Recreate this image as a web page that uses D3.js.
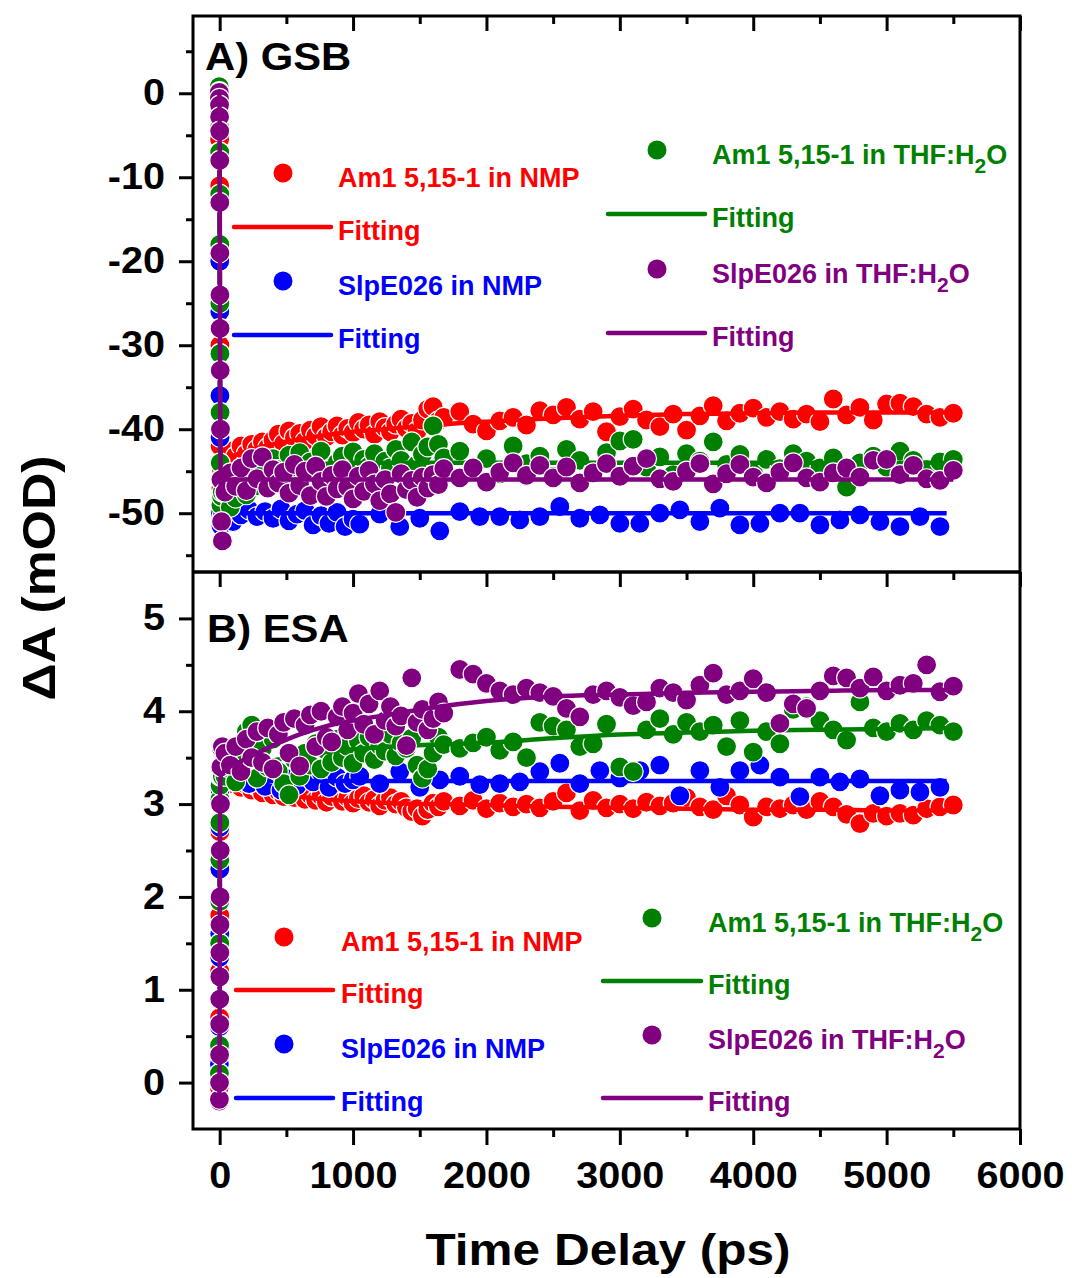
<!DOCTYPE html>
<html>
<head>
<meta charset="utf-8">
<script src="https://cdn.jsdelivr.net/npm/d3@7"></script>
<style>
  body { margin: 0; background: #fff; }
  svg { display: block; }
  text { font-family: "Liberation Sans", Arial, Helvetica, sans-serif; font-weight: bold; }
</style>
</head>
<body>
<svg id="chart" width="1072" height="1278"></svg>
<script>
// ---------- delay grids (ps) ----------
const delayEarly = [-3, -2, -1, -0.5, 0, 0.5, 1, 1.5, 2, 3, 4, 6, 9, 14, 20];
const delayDense = [40, 80, 120, 160, 200, 240, 280, 320, 360, 400, 440, 480, 520, 560, 600, 640, 680, 720, 760, 800,
  840, 880, 920, 960, 1000, 1040, 1080, 1120, 1160, 1200, 1240, 1280, 1320, 1360, 1400, 1440, 1480, 1520, 1560, 1600, 1640, 1680];
const delaySparse = [1800, 1900, 2000, 2100, 2200, 2300, 2400, 2500, 2600, 2700, 2800, 2900, 3000, 3100, 3200, 3300, 3400,
  3500, 3600, 3700, 3800, 3900, 4000, 4100, 4200, 4300, 4400, 4500, 4600, 4700, 4800, 4900, 5000, 5100, 5200, 5300, 5400, 5500];
const delayBlueDense = [40, 100, 160, 220, 280, 340, 400, 460, 520, 580, 640, 700, 760, 820, 880, 940, 1000];
const delayBlueSparse = [1050, 1200, 1350, 1500, 1650, 1800, 1950, 2100, 2250, 2400, 2550, 2700, 2850, 3000, 3150, 3300,
  3450, 3600, 3750, 3900, 4050, 4200, 4350, 4500, 4650, 4800, 4950, 5100, 5250, 5400];
const fitDelays = [-3, -1, 0, 1, 2, 3, 5, 10, 20, 50, 100, 200, 400, 600, 800, 1000, 1300, 1600, 2000, 2500, 3000, 3500, 4000, 4500, 5000, 5500];
const fitDelaysBlue = [-3, -1, 0, 1, 2, 3, 5, 10, 20, 50, 100, 200, 400, 600, 800, 1000, 1300, 1600, 2000, 2500, 3000, 3500, 4000, 4500, 5000, 5450];

// ---------- A) GSB (mOD) ----------
const gsbAm1Nmp = [
  0.5, -0.3, -2.1, -5.5, -11, -18, -24, -30, -36, -42, -46, -48.5, -47, -45, -44.2,
  -43.8, -42.6, -43.2, -42.0, -42.9, -41.8, -42.4, -41.5, -42.2, -41.3, -40.6, -41.7, -40.2, -41.0, -40.5, -41.4, -40.1, -40.8, -39.7, -40.9,
  -40.3, -39.6, -40.7, -39.9, -40.4, -39.2, -40.0, -39.5, -40.6, -39.1, -39.8, -40.3, -39.4, -38.8, -39.9, -39.3, -40.2, -38.9, -37.6, -37.3, -39.0, -38.6,
  -37.9, -39.4, -40.2, -39.0, -38.6, -39.5, -37.8, -38.3, -37.4, -38.8, -37.9, -40.3, -38.5, -37.6, -38.9, -39.7, -38.2, -40.1, -38.4,
  -37.2, -39.0, -38.1, -37.5, -38.6, -37.9, -38.8, -38.2, -39.1, -36.4, -38.3, -37.4, -38.9, -37.0, -36.9, -37.3, -38.2, -38.6, -38.1];
const gsbSlpNmp = [
  0.3, -0.5, -3, -7, -13, -20, -26, -31, -36, -41, -46, -50, -51.5, -51, -50.3,
  -50.5, -51.0, -50.2, -49.6, -50.4, -49.8, -50.6, -49.5, -50.9, -50.1, -49.7, -51.4, -50.3, -51.2, -49.9, -51.6, -50.7,
  -51.3, -50.1, -51.6, -50.6, -52.1, -49.8, -50.4, -50.4, -50.8, -50.4, -49.2, -50.6, -50.2, -51.2, -51.2,
  -50.0, -49.6, -51.0, -49.4, -51.4, -51.2, -50.0, -50.0, -51.4, -50.8, -50.2, -51.0, -51.6, -50.4, -51.6];
const gsbAm1Thf = [
  0.8, 0.2, -1.5, -4, -7, -12, -18, -25, -31, -38, -44, -48, -49, -48, -47.5,
  -47.6, -49.3, -48.2, -46.5, -47.8, -45.3, -46.7, -44.2, -45.6, -43.5, -44.8, -46.2, -43.1, -44.5, -42.8, -45.1, -43.9, -44.7, -42.6, -45.5,
  -46.6, -44.0, -43.2, -44.9, -42.7, -45.8, -43.6, -44.4, -42.9, -45.2, -43.8, -44.6, -42.4, -43.7, -45.0, -41.5, -44.2, -43.0, -42.1, -39.6, -41.8, -43.4,
  -42.6, -44.8, -43.5, -45.3, -42.0, -44.1, -43.2, -45.6, -42.4, -43.7, -45.0, -42.8, -41.4, -41.2, -44.5, -43.3, -45.4, -42.9, -43.8,
  -41.5, -44.2, -43.0, -45.1, -43.6, -44.7, -42.9, -43.8, -44.6, -43.4, -46.9, -44.0, -43.2, -44.5, -42.6, -43.7, -44.8, -43.9, -43.6];
const gsbSlpThf = [
  0.1, -0.6, -1.4, -2.8, -4.5, -8, -13, -19, -24, -28, -33, -40, -46, -51, -53.3,
  -47.5, -45.2, -46.8, -44.6, -47.3, -43.5, -45.9, -43.3, -47.0, -44.8, -46.4, -45.1, -47.6, -44.2, -46.7, -45.0, -47.9, -44.4, -46.2, -48.0,
  -45.5, -47.1, -44.8, -46.9, -48.3, -45.6, -47.4, -44.9, -46.5, -48.5, -46.0, -47.7, -49.9, -45.3, -47.2, -46.1, -48.1, -45.7, -47.0, -45.4, -46.6, -44.7,
  -45.8, -44.6, -46.3, -45.1, -44.0, -45.5, -44.3, -45.8, -44.5, -46.4, -45.2, -44.1, -45.6, -44.4, -43.5, -45.9, -46.2, -45.0, -44.1,
  -46.5, -45.3, -44.2, -45.7, -46.4, -45.1, -44.0, -45.8, -46.3, -45.2, -44.6, -45.7, -43.7, -43.6, -45.4, -44.3, -45.9, -46.1, -44.9];

const gsbFitAm1Nmp = [0, -0.5, -10, -24, -34, -40, -43.5, -44.2, -44.0, -43.6, -43.2, -42.6, -41.8, -41.2, -40.7, -40.3, -39.9, -39.5, -39.1, -38.7, -38.4, -38.2, -38.1, -38.0, -38.0, -38.0];
const gsbFitSlpNmp = [0, -0.5, -12, -26, -36, -43, -48, -50.2, -50.3, -50.1, -50.0, -50.0, -50.0, -50.0, -50.0, -50.0, -50.0, -50.0, -50.0, -50.0, -50.0, -50.0, -50.0, -50.0, -50.0, -50.0];
const gsbFitAm1Thf = [0, -0.3, -8, -20, -30, -38, -44, -47.0, -46.8, -46.2, -45.6, -45.0, -44.5, -44.2, -44.1, -44.0, -44.0, -44.0, -44.0, -44.0, -44.0, -44.0, -44.0, -44.0, -44.0, -44.0];
const gsbFitSlpThf = [0, -0.8, -5, -14, -22, -30, -40, -48, -46.5, -46.0, -46.0, -46.0, -46.0, -46.0, -46.0, -46.0, -46.0, -46.0, -46.0, -46.0, -46.0, -46.0, -46.0, -46.0, -46.0, -46.0];

// ---------- B) ESA (mOD) ----------
const esaAm1Nmp = [
  -0.05, 0.05, 0.3, 0.7, 1.2, 1.8, 2.3, 2.7, 3.0, 3.2, 3.3, 3.32, 3.3, 3.28, 3.25,
  3.28, 3.22, 3.25, 3.18, 3.21, 3.15, 3.19, 3.12, 3.17, 3.10, 3.14, 3.08, 3.13, 3.07, 3.12, 3.05, 3.10, 3.04, 3.09, 3.02,
  3.08, 3.11, 3.03, 3.07, 3.01, 3.06, 3.09, 3.02, 3.05, 2.98, 3.04, 3.07, 3.00, 3.03, 2.96, 2.92, 2.95, 2.87, 2.94, 3.01, 2.97, 3.03,
  2.98, 3.04, 2.95, 3.01, 2.97, 3.00, 2.96, 3.03, 3.12, 2.93, 3.04, 2.96, 3.00, 2.95, 3.02, 2.98, 3.01, 3.07, 2.97,
  2.94, 3.09, 2.99, 2.86, 2.97, 2.95, 2.99, 2.94, 3.03, 2.97, 2.89, 2.79, 2.90, 2.87, 2.90, 2.88, 2.95, 2.97, 2.99];
const esaSlpNmp = [
  0.02, 0.2, 0.6, 0.9, 1.35, 1.6, 2.3, 2.75, 3.0, 3.15, 3.25, 3.3, 3.3, 3.28, 3.3,
  3.30, 3.25, 3.32, 3.22, 3.28, 3.19, 3.33, 3.15, 3.27, 3.20, 3.30, 3.24, 3.34, 3.18, 3.29, 3.22, 3.26,
  3.30, 3.22, 3.35, 3.18, 3.26, 3.30, 3.21, 3.22, 3.24, 3.35, 3.44, 3.22, 3.36, 3.28, 3.36,
  3.42, 3.09, 3.36, 3.18, 3.36, 3.42, 3.29, 3.08, 3.29, 3.24, 3.27, 3.09, 3.15, 3.13, 3.18];
const esaAm1Thf = [
  0.0, 0.1, 0.4, 0.9, 1.5, 1.95, 2.4, 2.8, 3.05, 3.2, 3.3, 3.35, 3.3, 3.3, 3.3,
  3.30, 3.38, 3.24, 3.45, 3.78, 3.85, 3.28, 3.60, 3.40, 3.70, 3.35, 3.22, 3.10, 3.48, 3.30, 3.55, 3.42, 3.65, 3.38, 3.58,
  3.45, 3.70, 3.50, 3.62, 3.44, 3.68, 3.55, 3.72, 3.48, 3.63, 3.57, 3.75, 3.52, 3.66, 3.60, 3.71, 3.42, 3.28, 3.38, 3.55, 3.72, 3.64,
  3.60, 3.66, 3.72, 3.58, 3.67, 3.50, 3.88, 3.84, 3.80, 3.62, 3.65, 3.86, 3.40, 3.35, 3.80, 3.92, 3.75, 3.88, 3.78,
  3.85, 3.62, 3.90, 3.56, 3.78, 3.65, 4.02, 4.05, 3.90, 3.80, 3.69, 4.10, 3.82, 3.78, 3.87, 3.80, 3.90, 3.85, 3.78];
const esaSlpThf = [
  -0.2, -0.18, 0.0, 0.3, 0.63, 0.9, 1.14, 1.4, 1.7, 2.0, 2.5, 3.0, 3.4, 3.6, 3.62,
  3.55, 3.42, 3.62, 3.35, 3.70, 3.50, 3.78, 3.45, 3.82, 3.38, 3.75, 3.88, 3.55, 3.92, 3.41, 3.85, 3.96, 3.62, 4.00, 3.72,
  3.67, 3.94, 4.05, 3.80, 3.98, 4.19, 3.86, 4.08, 3.75, 4.22, 3.90, 4.05, 3.84, 3.95, 3.63, 4.36, 3.88, 4.02, 3.80, 3.92, 4.10, 3.98,
  4.45, 4.40, 4.30, 4.22, 4.18, 4.25, 4.20, 4.16, 4.03, 3.94, 4.18, 4.22, 4.15, 4.06, 4.10, 4.25, 4.20, 4.12, 4.28,
  4.41, 4.18, 4.22, 4.35, 4.20, 3.87, 4.08, 4.03, 4.22, 4.38, 4.36, 4.25, 4.37, 4.22, 4.28, 4.30, 4.50, 4.21, 4.27];

const esaFitAm1Nmp = [0, 0.3, 1.2, 2.3, 3.0, 3.2, 3.3, 3.32, 3.3, 3.26, 3.22, 3.17, 3.12, 3.08, 3.05, 3.03, 3.01, 3.00, 2.99, 2.97, 2.96, 2.95, 2.94, 2.94, 2.93, 2.93];
const esaFitSlpNmp = [0, 0.5, 1.4, 2.3, 2.9, 3.15, 3.25, 3.27, 3.26, 3.25, 3.25, 3.25, 3.25, 3.25, 3.25, 3.25, 3.25, 3.25, 3.25, 3.25, 3.25, 3.25, 3.25, 3.25, 3.25, 3.25];
const esaFitAm1Thf = [0, 0.4, 1.5, 2.4, 3.0, 3.2, 3.3, 3.32, 3.33, 3.35, 3.37, 3.41, 3.47, 3.52, 3.56, 3.59, 3.62, 3.64, 3.66, 3.71, 3.75, 3.77, 3.79, 3.80, 3.81, 3.82];
const esaFitSlpThf = [-0.2, 0.1, 0.6, 1.6, 2.5, 3.0, 3.25, 3.31, 3.33, 3.38, 3.42, 3.49, 3.63, 3.75, 3.84, 3.90, 3.97, 4.04, 4.11, 4.16, 4.18, 4.20, 4.21, 4.22, 4.23, 4.23];

// ---------- labels and axis ticks ----------
const seriesLabels = ["Am1 5,15-1 in NMP", "SlpE026 in NMP", "Am1 5,15-1 in THF:H2O", "SlpE026 in THF:H2O"];
const fitLabel = "Fitting";
const xMajorTicks = [0, 1000, 2000, 3000, 4000, 5000, 6000];
const xMinorTicks = [500, 1500, 2500, 3500, 4500, 5500];
const gsbMajorTicks = [-50, -40, -30, -20, -10, 0];
const gsbMinorTicks = [-55, -45, -35, -25, -15, -5, 5];
const esaMajorTicks = [0, 1, 2, 3, 4, 5];
const esaMinorTicks = [0.5, 1.5, 2.5, 3.5, 4.5];

const COLORS = ["#ff0000", "#0000ff", "#008000", "#800080"];

// ---------- layout ----------
const svg = d3.select("#chart");
const L = 193, R = 1020, T = 16, MID = 572, B = 1129;

const x = d3.scaleLinear().domain([-200, 6000]).range([L, R]);
const yGsb = d3.scaleLinear().domain([-57, 9.2]).range([MID, T]);
const yEsa = d3.scaleLinear().domain([-0.5, 5.5]).range([B, MID]);

const timesMain = delayEarly.concat(delayDense, delaySparse);
const timesBlue = delayEarly.concat(delayBlueDense, delayBlueSparse);

function stretch(sel, k) {
  sel.each(function () {
    const w = this.getComputedTextLength();
    this.setAttribute("textLength", w * k);
    this.setAttribute("lengthAdjust", "spacingAndGlyphs");
  });
}

const defs = svg.append("defs");

function drawPanel(id, y, sets, top, bottom) {
  defs.append("clipPath").attr("id", id)
    .append("rect").attr("x", L).attr("y", top).attr("width", R - L).attr("height", bottom - top);
  const g = svg.append("g").attr("clip-path", `url(#${id})`);
  sets.forEach(s => {
    const pts = s.times.map((t, i) => ({ t, v: s.values[i] }));
    g.append("g").selectAll("circle").data(pts).join("circle")
      .attr("cx", d => x(d.t)).attr("cy", d => y(d.v)).attr("r", 10)
      .attr("fill", s.color).attr("stroke", "#fff").attr("stroke-width", 1.2);
    const fit = s.fitTimes.map((t, i) => ({ t, v: s.fit[i] }));
    g.append("path").datum(fit)
      .attr("d", d3.line().x(d => x(d.t)).y(d => y(d.v)).curve(d3.curveMonotoneX))
      .attr("fill", "none").attr("stroke", s.color).attr("stroke-width", 4.5)
      .attr("stroke-linejoin", "round");
  });
}

drawPanel("clipGsb", yGsb, [
  { times: timesMain, values: gsbAm1Nmp, fitTimes: fitDelays, fit: gsbFitAm1Nmp, color: COLORS[0] },
  { times: timesBlue, values: gsbSlpNmp, fitTimes: fitDelaysBlue, fit: gsbFitSlpNmp, color: COLORS[1] },
  { times: timesMain, values: gsbAm1Thf, fitTimes: fitDelays, fit: gsbFitAm1Thf, color: COLORS[2] },
  { times: timesMain, values: gsbSlpThf, fitTimes: fitDelays, fit: gsbFitSlpThf, color: COLORS[3] }
], T, MID);

drawPanel("clipEsa", yEsa, [
  { times: timesMain, values: esaAm1Nmp, fitTimes: fitDelays, fit: esaFitAm1Nmp, color: COLORS[0] },
  { times: timesBlue, values: esaSlpNmp, fitTimes: fitDelaysBlue, fit: esaFitSlpNmp, color: COLORS[1] },
  { times: timesMain, values: esaAm1Thf, fitTimes: fitDelays, fit: esaFitAm1Thf, color: COLORS[2] },
  { times: timesMain, values: esaSlpThf, fitTimes: fitDelays, fit: esaFitSlpThf, color: COLORS[3] }
], MID, B);

// ---------- axes ----------
function addAxis(gen, tx, ty, labelled) {
  const g = svg.append("g").attr("transform", `translate(${tx},${ty})`).call(gen)
    .attr("font-family", null).attr("font-size", null);
  g.select(".domain").remove();
  g.selectAll(".tick line").attr("stroke", "#000").attr("stroke-width", 3);
  if (labelled) {
    g.selectAll(".tick text").attr("font-size", 36).attr("fill", "#000");
    stretch(g.selectAll(".tick text"), 1.1);
  }
  return g;
}
const fmt = d => String(d);

// left axes
addAxis(d3.axisLeft(yGsb).tickValues(gsbMinorTicks).tickSize(7).tickFormat(""), L, 0, false);
addAxis(d3.axisLeft(yGsb).tickValues(gsbMajorTicks).tickSize(14).tickPadding(14).tickFormat(fmt), L, 0, true);
addAxis(d3.axisLeft(yEsa).tickValues(esaMinorTicks).tickSize(7).tickFormat(""), L, 0, false);
addAxis(d3.axisLeft(yEsa).tickValues(esaMajorTicks).tickSize(14).tickPadding(14).tickFormat(fmt), L, 0, true);

// inward ticks along the top edge of each panel
[T, MID].forEach(yy => {
  addAxis(d3.axisBottom(x).tickValues(xMinorTicks).tickSize(8).tickFormat(""), 0, yy, false);
  addAxis(d3.axisBottom(x).tickValues(xMajorTicks).tickSize(15).tickFormat(""), 0, yy, false);
});

// bottom time axis
addAxis(d3.axisBottom(x).tickValues(xMinorTicks).tickSize(8).tickFormat(""), 0, B, false);
addAxis(d3.axisBottom(x).tickValues(xMajorTicks).tickSize(16).tickPadding(17).tickFormat(fmt), 0, B, true);

// frame
svg.append("rect").attr("x", L).attr("y", T).attr("width", R - L).attr("height", B - T)
  .attr("fill", "none").attr("stroke", "#000").attr("stroke-width", 3);
svg.append("line").attr("x1", L).attr("x2", R).attr("y1", MID).attr("y2", MID)
  .attr("stroke", "#000").attr("stroke-width", 3.5);

// axis titles
const xTitle = svg.append("text").attr("x", 608).attr("y", 1265).attr("text-anchor", "middle")
  .attr("font-size", 45).text("Time Delay (ps)");
stretch(xTitle, 1.1);
const yTitle = svg.append("text").attr("transform", "translate(55,578) rotate(-90)")
  .attr("text-anchor", "middle").attr("font-size", 47).text("\u0394A (mOD)");
stretch(yTitle, 1.1);

// panel labels
stretch(svg.append("text").attr("x", 205).attr("y", 70).attr("font-size", 38).text("A) GSB"), 1.1);
stretch(svg.append("text").attr("x", 207).attr("y", 642).attr("font-size", 38).text("B) ESA"), 1.1);

// ---------- legends ----------
function legendText(x0, y0, label, color) {
  const t = svg.append("text").attr("x", x0).attr("y", y0).attr("font-size", 27).attr("fill", color);
  const m = label.match(/^(.*H)2(O)$/);
  if (m) {
    t.append("tspan").text(m[1]);
    t.append("tspan").attr("font-size", 21).attr("dy", 9).text("2");
    t.append("tspan").attr("dy", -9).text(m[2]);
  } else {
    t.text(label);
  }
}
function legendBlock(s, dotX, dotY, lineX1, lineX2, lineY, textX) {
  svg.append("circle").attr("cx", dotX).attr("cy", dotY).attr("r", 9.5).attr("fill", COLORS[s]);
  legendText(textX, dotY + 14, seriesLabels[s], COLORS[s]);
  svg.append("line").attr("x1", lineX1).attr("x2", lineX2).attr("y1", lineY).attr("y2", lineY)
    .attr("stroke", COLORS[s]).attr("stroke-width", 4.5).attr("stroke-linecap", "round");
  legendText(textX, lineY + 13, fitLabel, COLORS[s]);
}
// GSB legend
legendBlock(0, 283, 173, 234, 331, 227, 338);
legendBlock(1, 283, 281, 234, 331, 335, 338);
legendBlock(2, 657, 150, 608, 705, 214, 712);
legendBlock(3, 657, 269, 608, 705, 333, 712);
// ESA legend
legendBlock(0, 284, 937, 236, 333, 990, 341);
legendBlock(1, 284, 1044, 236, 333, 1098, 341);
legendBlock(2, 652, 918, 603, 701, 981, 708);
legendBlock(3, 652, 1035, 603, 701, 1098, 708);
</script>
</body>
</html>
